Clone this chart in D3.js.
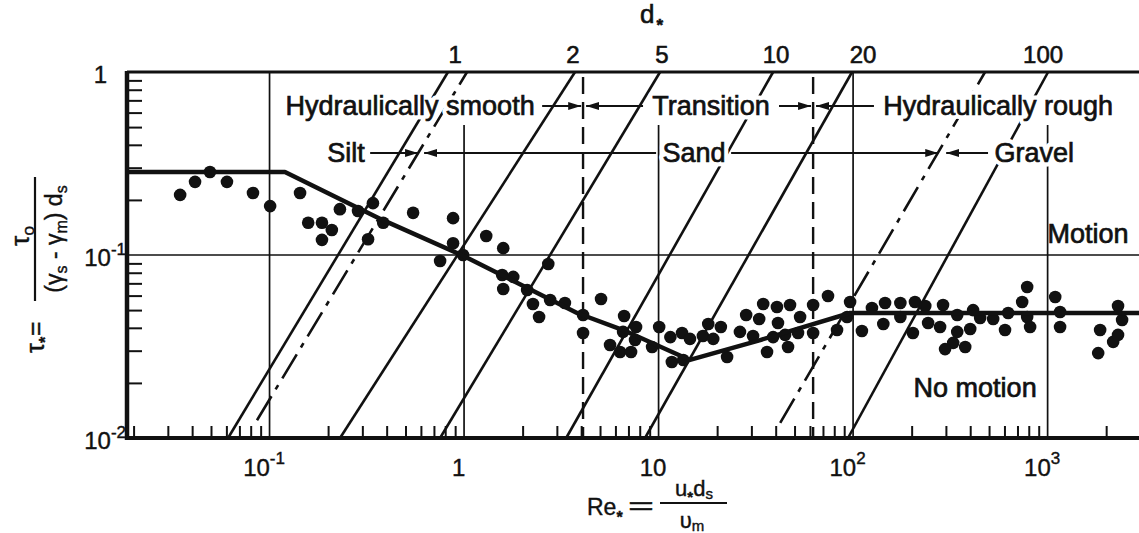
<!DOCTYPE html>
<html><head><meta charset="utf-8">
<script src="https://cdn.jsdelivr.net/npm/d3@7"></script>
<style>
body{margin:0;background:#fff;}
svg{display:block;font-family:"Liberation Sans",Arial,Helvetica,sans-serif;}
</style></head><body>
<svg id="c" width="1139" height="533"></svg>
<script>
// ---------- DATA ----------
const reDomain = [0.0185, 2950];
const tauDomain = [0.01, 1];
const reTicks = [0.1, 1, 10, 100, 1000];
const reTickBase = ["10", "1", "10", "10", "10"];
const reTickSup = ["-1", "", "", "2", "3"];
const gridTopTau = [1, 0.513, 0.513, 1, 0.513];
const tauTicks = [1, 0.1, 0.01];
const tauTickBase = ["1", "10", "10"];
const tauTickSup = ["", "-1", "-2"];

const obsRe = [0.0347,0.0414,0.0494,0.0604,0.0822,0.1007,0.1435,0.158,0.186,0.209,
 0.186,0.230,0.285,0.340,0.384,0.321,0.547,0.878,0.878,0.753,
 0.988,1.30,1.59,1.57,1.79,1.59,2.11,2.26,2.43,2.71,
 2.77,3.30,4.09,4.09,5.06,6.65,6.57,7.66,7.57,5.63,
 6.34,7.22,10.07,11.5,9.26,13.2,14.5,11.7,13.4,18.0,
 20.9,16.9,19.1,22.5,26.2,28.2,32.9,34.5,40.6,30.6,
 36.1,38.8,41.1,47.4,53.4,62.3,74.3,96.5,93.1,82.7,
 44.7,46.3,52.1,62.3,125,146,175,208,235,175,
 143,111,203,243,280,290,343,343,327,297,
 377,414,450,400,525,604,627,740,785,785,
 813,1094,1159,1159,1862,1820,2173,2302,2302,2415];
const obsTau = [0.213,0.251,0.284,0.251,0.218,0.185,0.218,0.150,0.150,0.137,
 0.121,0.178,0.174,0.192,0.150,0.122,0.170,0.159,0.116,0.0927,
 0.100,0.127,0.109,0.0778,0.0759,0.0652,0.0644,0.0540,0.0458,0.0893,
 0.0568,0.0547,0.0470,0.0375,0.0575,0.0464,0.0380,0.0404,0.0343,0.0322,
 0.0295,0.0295,0.0404,0.0356,0.0314,0.0375,0.0348,0.0260,0.0267,0.0420,
 0.0404,0.0361,0.0348,0.0277,0.0380,0.0470,0.0447,0.0540,0.0520,0.0361,
 0.0295,0.0356,0.0425,0.0533,0.0458,0.0533,0.0597,0.0554,0.0458,0.0389,
 0.0366,0.0314,0.0375,0.0375,0.0513,0.0547,0.0547,0.0554,0.0526,0.0458,
 0.0420,0.0384,0.0375,0.0425,0.0404,0.0533,0.0470,0.0380,0.0331,0.0306,
 0.0314,0.0500,0.0453,0.0394,0.0447,0.0389,0.0482,0.0554,0.0668,0.0458,
 0.0404,0.0589,0.0488,0.0404,0.0389,0.0291,0.0335,0.0366,0.0526,0.0441];

const shieldsRe = [0.0185, 0.120, 0.383, 0.99, 3.81, 6.57, 14.5, 33.3, 96.6, 2950];
const shieldsTau = [0.284, 0.284, 0.155, 0.099, 0.0482, 0.0389, 0.0267, 0.0343, 0.0482, 0.0482];

// constant d* lines (lower and upper end points)
const dStarRe0 = [0.0612, 0.0862, 0.2304, 0.753, 3.35, 8.52, 42.2, 94.2];
const dStarTau0 = [0.01, 0.0125, 0.01, 0.01, 0.01, 0.01, 0.0121, 0.01];
const dStarRe1 = [0.827, 1.036, 3.72, 10.18, 38.8, 98.8, 477, 1006];
const dStarTau1 = [1, 1, 1, 1, 1, 1, 1, 1];
const dStarKind = ["size", "class", "size", "size", "size", "size", "class", "size"];
const dStarLabels = ["1", "2", "5", "10", "20", "100"];
const dStarLabelRe = [0.899, 3.63, 10.4, 40.2, 112.6, 948];

// regime boundaries (dashed)
const regimeRe = [4.09, 62.3];
const regimeTauTop = 0.939;

// annotation rows
const arrowTau = [0.652, 0.652, 0.652, 0.652, 0.361, 0.361, 0.361, 0.361];
const arrowFromRe = [2.52, 8.32, 41.6, 128, 0.329, 9.71, 23.6, 494];
const arrowToRe = [4.00, 4.24, 60.8, 64.5, 0.580, 0.623, 274, 301];
const labelText = ["Hydraulically smooth", "Transition", "Hydraulically rough", "Silt", "Sand", "Gravel", "Motion", "No motion"];
const labelRe = [0.528, 18.6, 557, 0.247, 15.2, 853, 1615, 424];
const labelTau = [0.652, 0.652, 0.652, 0.361, 0.361, 0.361, 0.131, 0.0189];
const labelHalo = [true, true, true, true, true, true, false, false];

// ---------- DRAW ----------
const INK = "#111";
const svg = d3.select("#c");
const x = d3.scaleLog().domain(reDomain).range([127, 1139]);
const y = d3.scaleLog().domain(tauDomain).range([438, 72]);
const X0 = x.range()[0], X1 = x.range()[1], Y0 = y.range()[0], Y1 = y.range()[1];

const defs = svg.append("defs");
defs.append("marker").attr("id", "ah").attr("viewBox", "0 0 13 8")
  .attr("refX", 13).attr("refY", 4).attr("markerWidth", 13).attr("markerHeight", 8)
  .attr("markerUnits", "userSpaceOnUse").attr("orient", "auto")
  .append("path").attr("d", "M0,0L13,4L0,8Z").attr("fill", INK);

// grid lines
svg.append("g").selectAll("line").data(reTicks).join("line")
  .attr("x1", d => x(d)).attr("x2", d => x(d))
  .attr("y1", (d, i) => y(gridTopTau[i])).attr("y2", Y0)
  .attr("stroke", INK).attr("stroke-width", 1.7);
svg.append("line").attr("x1", X0).attr("x2", X1).attr("y1", y(0.1)).attr("y2", y(0.1))
  .attr("stroke", INK).attr("stroke-width", 1.7);

// regime boundaries
svg.append("g").selectAll("line").data(regimeRe).join("line")
  .attr("x1", d => x(d)).attr("x2", d => x(d))
  .attr("y1", y(regimeTauTop)).attr("y2", Y0)
  .attr("stroke", INK).attr("stroke-width", 2.4).attr("stroke-dasharray", "17,8");

// d* lines
svg.append("g").selectAll("line").data(dStarRe0).join("line")
  .attr("x1", (d, i) => x(dStarRe0[i])).attr("y1", (d, i) => y(dStarTau0[i]))
  .attr("x2", (d, i) => x(dStarRe1[i])).attr("y2", (d, i) => y(dStarTau1[i]))
  .attr("stroke", INK).attr("stroke-width", 2.6)
  .attr("stroke-dasharray", (d, i) => dStarKind[i] === "class" ? "28,8,5,8" : null);

// minor ticks
const reMinor = [];
for (let e = -2; e <= 3; e++) for (let k = 2; k <= 9; k++) {
  const v = k * Math.pow(10, e);
  if (v > reDomain[0] && v < reDomain[1]) reMinor.push(+v.toPrecision(3));
}
const tauMinor = [];
for (let e = -2; e <= -1; e++) for (let k = 2; k <= 9; k++) tauMinor.push(+(k * Math.pow(10, e)).toPrecision(3));

const gb = svg.append("g").attr("transform", `translate(0,${Y0})`)
  .call(d3.axisBottom(x).tickValues(reMinor).tickSize(-12).tickFormat(""));
gb.select(".domain").remove();
gb.selectAll(".tick line").attr("stroke", INK).attr("stroke-width", 2);

const gl = svg.append("g").attr("transform", `translate(${X0},0)`)
  .call(d3.axisLeft(y).tickValues(tauMinor).tickSize(-15).tickFormat(""));
gl.select(".domain").remove();
gl.selectAll(".tick line").attr("stroke", INK).attr("stroke-width", 2);

// bottom major labels
const gbl = svg.append("g").attr("transform", `translate(0,${Y0})`)
  .call(d3.axisBottom(x).tickValues(reTicks).tickSize(0).tickFormat(""));
gbl.attr("font-family", null).attr("font-size", null);
gbl.select(".domain").remove();
gbl.selectAll(".tick text").each(function (d, i) {
  const t = d3.select(this).attr("y", 38).attr("dy", null).attr("x", -6)
    .attr("font-size", 24).attr("fill", INK).attr("stroke", INK).attr("stroke-width", 0.4)
    .attr("text-anchor", "middle");
  t.append("tspan").text(reTickBase[i]);
  if (reTickSup[i]) t.append("tspan").attr("dy", -12).attr("font-size", 17).text(reTickSup[i]);
});

// left major labels
const gll = svg.append("g").attr("transform", `translate(${X0},0)`)
  .call(d3.axisLeft(y).tickValues(tauTicks).tickSize(0).tickFormat(""));
gll.attr("font-family", null).attr("font-size", null);
gll.select(".domain").remove();
gll.selectAll(".tick text").each(function (d, i) {
  const t = d3.select(this).attr("dy", null).attr("y", 10)
    .attr("x", tauTickSup[i] ? -1 : -20).attr("font-size", 24).attr("fill", INK)
    .attr("stroke", INK).attr("stroke-width", 0.4).attr("text-anchor", "end");
  t.append("tspan").text(tauTickBase[i]);
  if (tauTickSup[i]) t.append("tspan").attr("dy", -11).attr("font-size", 17).text(tauTickSup[i]);
});

// frame
svg.append("line").attr("x1", X0).attr("x2", X1).attr("y1", Y1).attr("y2", Y1)
  .attr("stroke", INK).attr("stroke-width", 3);
svg.append("line").attr("x1", X0 - 2).attr("x2", X1).attr("y1", Y0).attr("y2", Y0)
  .attr("stroke", INK).attr("stroke-width", 4);
svg.append("line").attr("x1", X0).attr("x2", X0).attr("y1", Y1 - 1).attr("y2", Y0 + 2)
  .attr("stroke", INK).attr("stroke-width", 4.5);

// data points
svg.append("g").selectAll("circle").data(obsRe).join("circle")
  .attr("cx", (d, i) => x(obsRe[i])).attr("cy", (d, i) => y(obsTau[i]))
  .attr("r", 6.3).attr("fill", INK);

// Shields curve
const line = d3.line().x(d => x(d[0])).y(d => y(d[1]));
svg.append("path").datum(shieldsRe.map((r, i) => [r, shieldsTau[i]]))
  .attr("d", line).attr("fill", "none").attr("stroke", INK)
  .attr("stroke-width", 4.5).attr("stroke-linejoin", "round");

// labels
const lg = svg.append("g").attr("font-size", 27);
labelText.forEach((txt, i) => {
  if (labelHalo[i]) {
    lg.append("text").attr("x", x(labelRe[i])).attr("y", y(labelTau[i])).attr("dy", "0.35em")
      .attr("text-anchor", "middle").attr("fill", "#fff").attr("stroke", "#fff")
      .attr("stroke-width", 9).attr("stroke-linejoin", "round").text(txt);
  }
  lg.append("text").attr("x", x(labelRe[i])).attr("y", y(labelTau[i])).attr("dy", "0.35em")
    .attr("text-anchor", "middle").attr("fill", INK).attr("stroke", INK)
    .attr("stroke-width", 0.7).text(txt);
});

// arrows
svg.append("g").selectAll("line").data(arrowFromRe).join("line")
  .attr("x1", (d, i) => x(arrowFromRe[i])).attr("x2", (d, i) => x(arrowToRe[i]))
  .attr("y1", (d, i) => y(arrowTau[i])).attr("y2", (d, i) => y(arrowTau[i]))
  .attr("stroke", INK).attr("stroke-width", 2.2).attr("marker-end", "url(#ah)");

// top d* labels
svg.append("g").selectAll("text").data(dStarLabels).join("text")
  .attr("x", (d, i) => x(dStarLabelRe[i])).attr("y", Y1 - 9)
  .attr("text-anchor", "middle").attr("font-size", 24).attr("fill", INK)
  .attr("stroke", INK).attr("stroke-width", 0.6).text(d => d);

// top title d*
const dt = svg.append("text").attr("x", 640).attr("y", 23).attr("font-size", 26)
  .attr("fill", INK).attr("stroke", INK).attr("stroke-width", 0.6);
dt.append("tspan").text("d");
dt.append("tspan").attr("dx", 2).attr("dy", 8).attr("font-size", 17).attr("font-weight", "bold").text("*");

// x axis title
const xt = svg.append("g").attr("fill", INK).attr("stroke", INK).attr("stroke-width", 0.4);
const xt1 = xt.append("text").attr("x", 587).attr("y", 515).attr("font-size", 23);
xt1.append("tspan").text("Re");
xt1.append("tspan").attr("dy", 8).attr("font-size", 16).attr("font-weight", "bold").text("*");
xt.append("text").attr("x", 628).attr("y", 514).attr("font-size", 23)
  .attr("textLength", 26).attr("lengthAdjust", "spacingAndGlyphs").text("=");
const xn = xt.append("text").attr("x", 694).attr("y", 496).attr("font-size", 22).attr("text-anchor", "middle");
xn.append("tspan").text("u");
xn.append("tspan").attr("dy", 6).attr("font-size", 15).attr("font-weight", "bold").text("*");
xn.append("tspan").attr("dy", -6).text("d");
xn.append("tspan").attr("dy", 3).attr("font-size", 15).text("s");
xt.append("line").attr("x1", 660).attr("x2", 727).attr("y1", 503).attr("y2", 503).attr("stroke-width", 2.2);
const xd = xt.append("text").attr("x", 692).attr("y", 528).attr("font-size", 22).attr("text-anchor", "middle");
xd.append("tspan").text("υ");
xd.append("tspan").attr("dy", 3).attr("font-size", 15).text("m");

// y axis title (rotated)
const yt = svg.append("g").attr("transform", "rotate(-90)")
  .attr("fill", INK).attr("stroke", INK).attr("stroke-width", 0.4);
const y1t = yt.append("text").attr("x", -353).attr("y", 44).attr("font-size", 25);
y1t.append("tspan").text("τ");
y1t.append("tspan").attr("dy", 7).attr("font-size", 16).attr("font-weight", "bold").text("*");
y1t.append("tspan").attr("dy", -7).attr("dx", 1).text("=");
const ynum = yt.append("text").attr("x", -236).attr("y", 29).attr("font-size", 26).attr("text-anchor", "middle");
ynum.append("tspan").text("τ");
ynum.append("tspan").attr("dy", 5).attr("font-size", 17).text("o");
yt.append("line").attr("x1", -301).attr("x2", -177).attr("y1", 35).attr("y2", 35).attr("stroke-width", 2.2);
const yden = yt.append("text").attr("x", -239).attr("y", 62).attr("font-size", 23).attr("text-anchor", "middle");
yden.append("tspan").text("(γ");
yden.append("tspan").attr("dy", 5).attr("font-size", 16).text("s");
yden.append("tspan").attr("dy", -5).text(" - γ");
yden.append("tspan").attr("dy", 5).attr("font-size", 16).text("m");
yden.append("tspan").attr("dy", -5).text(") d");
yden.append("tspan").attr("dy", 5).attr("font-size", 16).text("s");
</script>
</body></html>
